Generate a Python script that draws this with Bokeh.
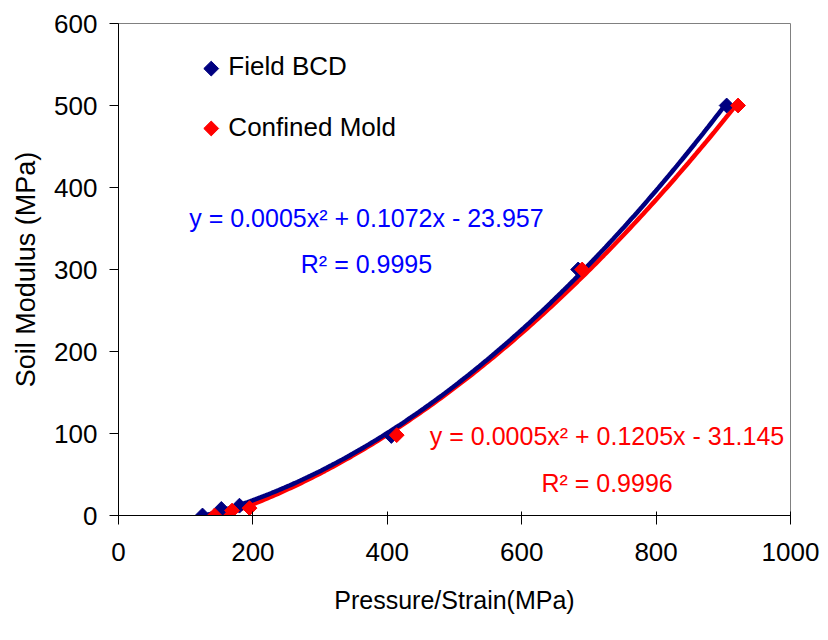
import numpy as np
from bokeh.plotting import figure
from bokeh.models import SingleIntervalTicker, Range1d
from bokeh.core.properties import value
from bokeh.embed import file_html
from bokeh.resources import INLINE

# ---- data ----
field_x = [125, 153, 180, 406, 684, 905]
field_y = [0, 8, 12, 97, 300, 500]
mold_x = [143, 169, 195, 414, 690, 922]
mold_y = [0, 6, 9, 98, 300, 500]

series_names = ["Field BCD", "Confined Mold"]
eq_field = ["y = 0.0005x² + 0.1072x - 23.957", "R² = 0.9995"]
eq_mold = ["y = 0.0005x² + 0.1205x - 31.145", "R² = 0.9996"]

FONT = "Liberation Sans"
NAVY = "#000080"
RED = "#FF0000"
BLUE_TXT = "#0000FF"

p = figure(width=828, height=640, output_backend="svg", toolbar_location=None,
           x_range=Range1d(0, 1000), y_range=Range1d(0, 600),
           min_border_left=118, min_border_right=38, min_border_top=23,
           min_border_bottom=125)
p.grid.visible = False
p.outline_line_color = "#808080"
p.outline_line_width = 1
p.background_fill_color = "white"
p.border_fill_color = "white"

p.xaxis.ticker = SingleIntervalTicker(interval=200)
p.yaxis.ticker = SingleIntervalTicker(interval=100)
for ax in (p.xaxis[0], p.yaxis[0]):
    ax.minor_tick_line_color = None
    ax.axis_line_color = "black"
    ax.major_tick_line_color = "black"
    ax.major_label_text_font = FONT
    ax.major_label_text_font_size = "26px"
    ax.major_label_text_color = "black"
    ax.axis_label_text_font = FONT
    ax.axis_label_text_font_style = "normal"
    ax.axis_label_text_color = "black"

p.xaxis.axis_label_text_font_size = "25px"
p.yaxis.axis_label_text_font_size = "27px"
p.xaxis.major_tick_in = 4
p.xaxis.major_tick_out = 9
p.yaxis.major_tick_in = 0
p.yaxis.major_tick_out = 9
p.xaxis.major_label_standoff = 18
p.yaxis.major_label_standoff = 12
p.xaxis.axis_label = "Pressure/Strain(MPa)"
p.yaxis.axis_label = "Soil Modulus (MPa)"
p.xaxis.axis_label_standoff = 22
p.yaxis.axis_label_standoff = 10

# trendlines (2nd order polynomial fit of the points)
for xs, ys, col in ((mold_x, mold_y, RED), (field_x, field_y, NAVY)):
    c = np.polyfit(xs, ys, 2)
    xx = np.linspace(min(xs), max(xs), 200)
    p.line(xx, np.polyval(c, xx), line_color=col, line_width=4.5)

# markers
MS = 10.5
p.scatter(field_x, field_y, marker="square", size=MS, angle=np.pi / 4,
          fill_color=NAVY, line_color=NAVY)
p.scatter(mold_x, mold_y, marker="square", size=MS, angle=np.pi / 4,
          fill_color=RED, line_color=RED)

# manual legend (no frame)
p.scatter([138], [545], marker="square", size=MS, angle=np.pi / 4,
          fill_color=NAVY, line_color=NAVY)
p.scatter([138], [472], marker="square", size=MS, angle=np.pi / 4,
          fill_color=RED, line_color=RED)
p.text([163.5, 163.5], [548, 474], text=series_names, text_font=value(FONT),
       text_font_size="26px", text_color="black", text_align="left",
       text_baseline="alphabetic")

# equations
p.text([369, 369], [363, 307], text=eq_field, text_font=value(FONT),
       text_font_size="25px", text_color=BLUE_TXT, text_align="center",
       text_baseline="alphabetic")
p.text([727, 727], [97, 40], text=eq_mold, text_font=value(FONT),
       text_font_size="25px", text_color=RED, text_align="center",
       text_baseline="alphabetic")

open("out.html", "w").write(file_html(p, INLINE))
